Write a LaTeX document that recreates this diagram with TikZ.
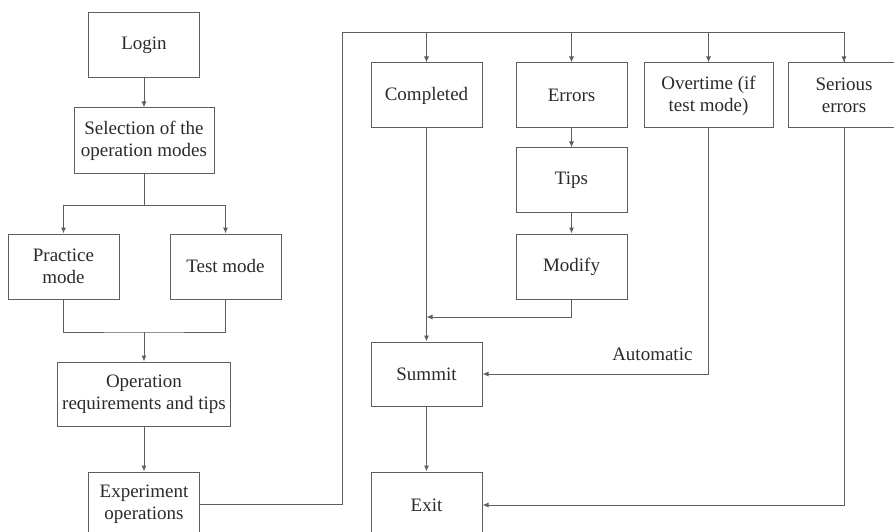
\documentclass[tikz,border=0pt]{standalone}
\usepackage{fontspec}
\setmainfont{Liberation Serif}
\usepackage{tikz}
\usetikzlibrary{arrows.meta,shapes,calc,positioning}
\definecolor{FlowLine}{HTML}{5E5E5E}
\definecolor{FlowText}{HTML}{2A2A2A}

\begin{document}
\begin{tikzpicture}[x=1pt, y=-1pt,
  box/.style={draw=FlowLine, line width=1pt, text=FlowText, align=center,
    minimum width=111pt, minimum height=65pt, inner sep=2pt,
    font=\fontsize{19}{22}\selectfont},
  flow/.style={draw=FlowLine, line width=1pt},
  arr/.style={flow, -{Latex[length=6pt,width=5pt]}}]
\useasboundingbox (0,0) rectangle (894,532);
\clip (0,0) rectangle (894,532);

% left column
\node[box] (login) at (144,45.5) {Login};
\node[box, minimum width=140pt] (select) at (144,140.5) {Selection of the\\operation modes};
\node[box] (practice) at (63.5,266.5) {Practice\\mode};
\node[box] (test) at (225.5,266.5) {Test mode};
\node[box, minimum width=173pt, minimum height=64pt] (oper) at (144,394) {Operation\\requirements and tips};
\node[box, minimum height=64pt] (exper) at (144,504) {Experiment\\operations};

% right part
\node[box] (completed) at (426.5,95.5) {Completed};
\node[box] (errors) at (571.5,95.5) {Errors};
\node[box, minimum height=64pt] (tips) at (571.5,180) {Tips};
\node[box] (modify) at (571.5,266.5) {Modify};
\node[box, minimum width=129pt] (overtime) at (708.5,95.5) {Overtime (if\\test mode)};
\node[box] (serious) at (844,95.5) {Serious\\errors};
\node[box, minimum height=64pt] (summit) at (426.5,374) {Summit};
\node[box, minimum height=66pt] (exit) at (426.5,505) {Exit};
\node[text=FlowText, font=\fontsize{19}{22}\selectfont, anchor=base east] (auto) at (696,360) {Automatic};

\coordinate (split) at (144,205);
\coordinate (merge) at (144,332);
\coordinate (bus) at (342,33);
\coordinate (join) at (426.5,317);

\draw[arr] (login) -- (select);
\draw[flow] (select) -- (split);
\draw[arr] (split) -| (practice.north);
\draw[arr] (split) -| (test.north);
\draw[flow] (practice.south) |- (merge) -| (test.south);
\draw[arr] (merge) -- (oper.north);
\draw[arr] (oper) -- (exper);

\draw[flow] (exper.east) -| (bus) -| (serious.north);
\draw[arr] (bus -| serious) -- (serious.north);
\draw[arr] (bus -| completed) -- (completed.north);
\draw[arr] (bus -| errors) -- (errors.north);
\draw[arr] (bus -| overtime) -- (overtime.north);

\draw[arr] (errors) -- (tips);
\draw[arr] (tips) -- (modify);
\draw[arr] (modify.south) |- (join);
\draw[arr] (completed.south) -- (summit.north);
\draw[arr] (overtime.south) |- (summit.east);
\draw[arr] (summit) -- (exit);
\draw[arr] (serious.south) |- (exit.east);

\end{tikzpicture}
\end{document}
